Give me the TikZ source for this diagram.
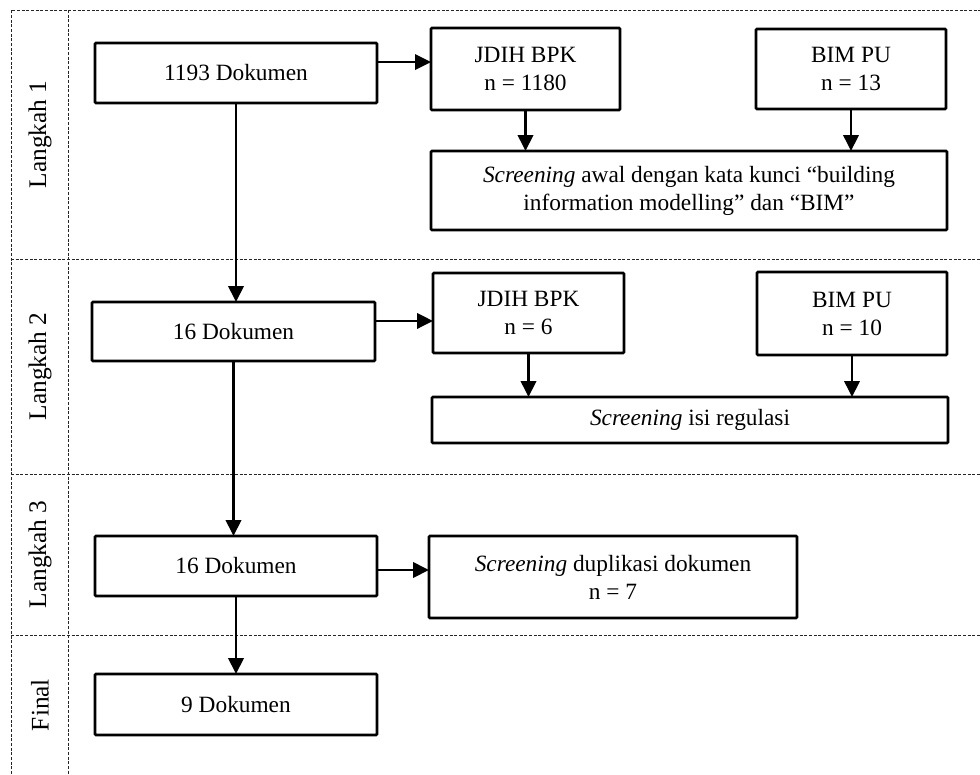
\documentclass[tikz,border=0pt]{standalone}
\usepackage{fontspec}
\setmainfont{Liberation Serif}
\usetikzlibrary{arrows.meta}
\newcommand\pxbox[6]{% name, x1, y1, x2, y2, text
  \node[box, minimum width={(#4-#2)*0.75pt}, minimum height={(#5-#3)*0.75pt}]
    (#1) at ({(#2+#4)/2},{(#3+#5)/2}) {#6};}
\begin{document}
\begin{tikzpicture}[x=0.75pt,y=-0.75pt,
  box/.style={draw=black, line width=2pt, inner sep=0pt, outer sep=0pt, align=center,
    font=\fontsize{17.5}{21}\selectfont, rounded corners=0.8pt},
  arr/.style={line width=2pt, -{Triangle[length=12pt,width=11.5pt]}},
  gridline/.style={line width=0.6pt, dash pattern=on 2.2pt off 1.3pt, draw=black!85},
  lab/.style={rotate=90, font=\fontsize{19}{22}\selectfont}]
\useasboundingbox (0,0) rectangle (980,774);
% lanes
\draw[gridline] (11,774) -- (11,10) -- (980,10);
\draw[gridline] (68,10) -- (68,774);
\draw[gridline] (11,259) -- (980,259);
\draw[gridline] (11,474) -- (980,474);
\draw[gridline] (11,635) -- (980,635);
\node[lab] (l1) at (40,134.5) {Langkah 1};
\node[lab] (l2) at (40,366.5) {Langkah 2};
\node[lab] (l3) at (40,554.5) {Langkah 3};
\node[lab] (l4) at (40,705) {Final};
% step 1
\pxbox{d1}{95}{43}{377}{103}{1193 Dokumen}
\pxbox{j1}{431}{28}{620}{110}{JDIH BPK\\n = 1180}
\pxbox{b1}{756}{29}{946}{109}{BIM PU\\n = 13}
\pxbox{s1}{431}{151}{947}{230}{\textit{Screening} awal dengan kata kunci “building\\information modelling” dan “BIM”}
% step 2
\pxbox{d2}{92}{302}{375}{361}{16 Dokumen}
\pxbox{j2}{433}{273}{624}{353}{JDIH BPK\\n = 6}
\pxbox{b2}{757}{272}{947}{355}{BIM PU\\n = 10}
\pxbox{s2}{432}{397}{948}{443}{\textit{Screening} isi regulasi}
% step 3
\pxbox{d3}{95}{536}{377}{596}{16 Dokumen}
\pxbox{s3}{429}{536}{797}{618}{\textit{Screening} duplikasi dokumen\\n = 7}
% final
\pxbox{d4}{95}{674}{377}{735}{9 Dokumen}
% connectors
\draw[arr] ([yshift=8.2pt]d1.east) -- ([yshift=8.2pt]d1.east -| j1.west);
\draw[arr] (j1.south) -- (j1.south |- s1.north);
\draw[arr] (b1.south) -- (b1.south |- s1.north);
\draw[arr] (d1.south) -- (d1.south |- d2.north);
\draw[arr] ([yshift=7.9pt]d2.east) -- ([yshift=7.9pt]d2.east -| j2.west);
\draw[arr] (j2.south) -- (j2.south |- s2.north);
\draw[arr] (b2.south) -- (b2.south |- s2.north);
\draw[arr] (d2.south) -- (d2.south |- d3.north);
\draw[arr] ([yshift=-3pt]d3.east) -- ([yshift=-3pt]d3.east -| s3.west);
\draw[arr] (d3.south) -- (d3.south |- d4.north);
\end{tikzpicture}
\end{document}
